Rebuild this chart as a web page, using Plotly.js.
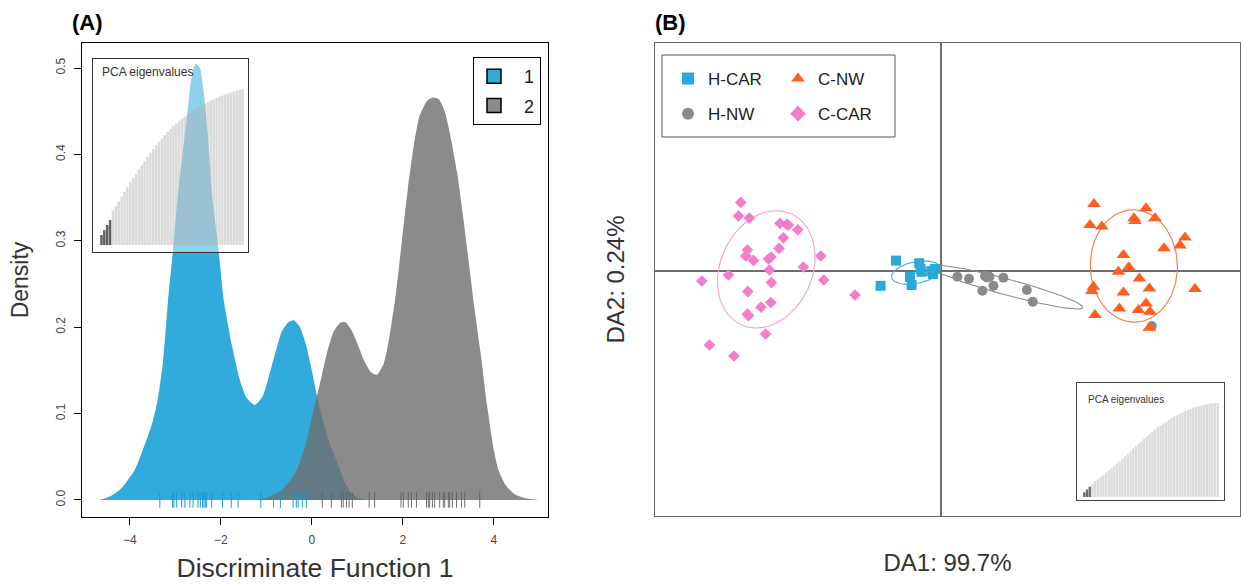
<!DOCTYPE html>
<html>
<head>
<meta charset="utf-8">
<script src="https://cdn.plot.ly/plotly-3.0.1.min.js"></script>
<style>
  html, body { margin: 0; padding: 0; background: #ffffff; }
  #chart { width: 1241px; height: 584px; }
</style>
</head>
<body>
<div id="chart"></div>
<script>
// ---------------- Panel A: density of discriminant function 1 ----------------
const group1DensityX = [-4.66, -4.44, -4.18, -3.89, -3.63, -3.49, -3.38, -3.27, -3.16, -3.05, -2.95, -2.84, -2.73, -2.64, -2.55, -2.46, -2.37, -2.29, -2.18, -2.07, -1.93, -1.76, -1.58, -1.43, -1.25, -1.08, -0.88, -0.66, -0.51, -0.40, -0.26, -0.13, 0.00, 0.18, 0.40, 0.51, 0.62, 0.73, 0.84, 1.00, 1.20];
const group1DensityY = [0.000, 0.004, 0.014, 0.035, 0.070, 0.092, 0.118, 0.160, 0.230, 0.290, 0.350, 0.400, 0.450, 0.490, 0.505, 0.500, 0.470, 0.425, 0.347, 0.300, 0.230, 0.180, 0.139, 0.118, 0.110, 0.120, 0.155, 0.195, 0.206, 0.208, 0.200, 0.180, 0.150, 0.105, 0.064, 0.050, 0.035, 0.020, 0.010, 0.003, 0.000];

const group2DensityX = [-1.25, -0.97, -0.70, -0.48, -0.31, -0.13, 0.02, 0.18, 0.33, 0.48, 0.62, 0.73, 0.86, 1.01, 1.16, 1.30, 1.43, 1.58, 1.71, 1.85, 1.98, 2.11, 2.24, 2.37, 2.53, 2.66, 2.79, 2.92, 3.05, 3.19, 3.32, 3.45, 3.58, 3.71, 3.85, 4.00, 4.10, 4.25, 4.45, 4.70, 5.00];
const group2DensityY = [0.000, 0.003, 0.010, 0.022, 0.037, 0.065, 0.100, 0.135, 0.170, 0.195, 0.205, 0.206, 0.198, 0.180, 0.160, 0.148, 0.145, 0.158, 0.190, 0.240, 0.300, 0.360, 0.410, 0.445, 0.462, 0.466, 0.464, 0.450, 0.420, 0.380, 0.330, 0.275, 0.220, 0.170, 0.110, 0.058, 0.035, 0.018, 0.007, 0.002, 0.000];

const group1Rug = [-3.34, -3.06, -3.03, -2.97, -2.86, -2.79, -2.68, -2.61, -2.50, -2.45, -2.40, -2.37, -2.34, -2.31, -2.20, -1.96, -1.77, -1.62, -1.12, -0.84, -0.69, -0.41, -0.34, -0.30, -0.21, -0.12];
const group2Rug = [0.23, 0.43, 0.65, 0.69, 0.76, 0.82, 0.89, 1.26, 1.38, 1.96, 2.01, 2.12, 2.19, 2.30, 2.52, 2.56, 2.59, 2.65, 2.70, 2.81, 2.89, 2.92, 3.00, 3.03, 3.09, 3.18, 3.29, 3.36, 3.69];

const groupNames = ['1', '2'];
const densityTicks = [0, 0.1, 0.2, 0.3, 0.4, 0.5];
const densityTickText = ['0.0', '0.1', '0.2', '0.3', '0.4', '0.5'];
const dfTicks = [-4, -2, 0, 2, 4];

// PCA eigenvalue insets (cumulative, % of total)
const pcaEigenA = [6.4, 9.5, 12.8, 16.0, 22, 25, 28, 31, 34, 37, 40, 42.8, 45.6, 48.4, 51.1, 53.8, 56.4, 59, 61.5, 63.9, 66.2, 68.4, 70.5, 72.5, 74.4, 76.2, 77.9, 79.5, 81, 82.4, 83.7, 85, 86.2, 87.4, 88.5, 89.6, 90.6, 91.6, 92.5, 93.4, 94.2, 95, 95.8, 96.5, 97.2, 97.8, 98.4, 99, 99.5, 100];
const pcaRetainedA = 4;
const pcaEigenB = [5, 8, 11, 14, 16.4, 18.8, 21.2, 23.6, 26, 28.4, 30.8, 33.2, 35.6, 38, 40.7, 43.4, 46.1, 48.8, 51.5, 54.2, 56.9, 59.5, 62.1, 64.6, 67.1, 69.5, 71.8, 74, 76.1, 78.1, 80, 81.9, 83.7, 85.4, 87, 88.5, 90, 91.3, 92.6, 93.8, 94.9, 95.9, 96.8, 97.6, 98.3, 98.9, 99.4, 99.7, 99.9, 100];
const pcaRetainedB = 3;

// ---------------- Panel B: DAPC scatter ----------------
const hcarDA1 = [-2.25, -1.09, -1.02, -0.97, -1.55, -1.47, -3.02, -0.47, -0.30, -0.40];
const hcarDA2 = [0.52, 0.39, 0.10, -0.04, -0.29, -0.70, -0.74, 0.00, 0.10, -0.15];

const hnwDA1 = [0.82, 1.40, 2.20, 2.42, 2.29, 3.12, 2.07, 2.62, 4.29, 4.59, 10.54];
const hnwDA2 = [-0.29, -0.39, -0.25, -0.29, -0.32, -0.34, -0.99, -0.74, -0.95, -1.54, -2.75];

const cnwDA1 = [7.65, 10.25, 9.65, 9.70, 10.70, 7.45, 8.04, 12.20, 11.95, 11.15, 9.12, 9.39, 8.87, 9.92, 10.42, 12.70, 7.62, 7.54, 9.12, 10.25, 8.92, 9.87, 10.45, 7.70, 10.42];
const cnwDA2 = [3.35, 3.14, 2.64, 2.50, 2.64, 2.30, 2.22, 1.67, 1.27, 1.14, 0.80, 0.19, -0.04, -0.37, -0.87, -0.90, -0.79, -1.00, -1.07, -1.62, -1.87, -1.95, -2.04, -2.20, -2.84];

const ccarDA1 = [-10.01, -10.13, -9.58, -8.05, -7.71, -7.63, -7.16, -7.88, -8.10, -9.68, -9.76, -9.38, -8.63, -8.50, -6.01, -6.88, -8.58, -10.63, -11.96, -5.86, -8.48, -9.66, -9.00, -8.51, -9.68, -9.63, -8.77, -11.58, -10.35, -4.30];
const ccarDA2 = [3.43, 2.75, 2.65, 2.38, 2.33, 2.30, 2.06, 1.66, 1.13, 1.05, 0.75, 0.53, 0.60, 0.70, 0.75, 0.20, 0.05, -0.20, -0.50, -0.45, -0.58, -1.03, -1.81, -1.58, -2.16, -2.23, -3.15, -3.70, -4.25, -1.20];

const popNames = ['H-CAR', 'H-NW', 'C-NW', 'C-CAR'];
const popColors = ['#2ba9dc', '#8a8a8a', '#ff5e1f', '#f47cc8'];
const ellipseColors = ['#3aaedc', '#8c8c8c', '#f47a46', '#f4a0d2'];
const ellipseScale = 1.5;

// ---------------- helpers ----------------
const FONT = 'Liberation Sans, Arial, sans-serif';
const W = 1241, H = 584;
const px = v => v / W;
const py = v => (H - v) / H;

function covEllipse(xs, ys, k) {
  const n = xs.length;
  const mx = xs.reduce((a, b) => a + b, 0) / n;
  const my = ys.reduce((a, b) => a + b, 0) / n;
  let sxx = 0, syy = 0, sxy = 0;
  for (let i = 0; i < n; i++) {
    sxx += (xs[i] - mx) ** 2; syy += (ys[i] - my) ** 2; sxy += (xs[i] - mx) * (ys[i] - my);
  }
  sxx /= n; syy /= n; sxy /= n;
  const tr = sxx + syy, det = sxx * syy - sxy * sxy;
  const disc = Math.sqrt(Math.max(tr * tr / 4 - det, 0));
  const l1 = tr / 2 + disc, l2 = Math.max(tr / 2 - disc, 0);
  const ang = 0.5 * Math.atan2(2 * sxy, sxx - syy);
  const a = k * Math.sqrt(l1), b = k * Math.sqrt(l2);
  const ex = [], ey = [];
  for (let i = 0; i <= 120; i++) {
    const t = 2 * Math.PI * i / 120;
    const u = a * Math.cos(t), v = b * Math.sin(t);
    ex.push(mx + u * Math.cos(ang) - v * Math.sin(ang));
    ey.push(my + u * Math.sin(ang) + v * Math.cos(ang));
  }
  return { x: ex, y: ey };
}

const blueFill = 'rgb(51,170,220)';
const grayFill = 'rgba(110,110,110,0.8)';

// axis ranges
const xA = [-5.05, 5.19];
const yA = [-0.0197, 0.529];
const xB = [-14.3, 14.95];
const yB = [-12.25, 11.4];
const xInA = [-1.93, 51.9];
const yInA = [-4.49, 119.2];
const xInB = [-1.7, 52.3];
const yInB = [-3.2, 121.3];

const traces = [];

// density curves
traces.push({
  type: 'scatter', mode: 'lines', x: group1DensityX, y: group1DensityY,
  fill: 'tozeroy', fillcolor: blueFill, line: { width: 0, color: blueFill, shape: 'spline', smoothing: 0.6 },
  xaxis: 'x', yaxis: 'y', showlegend: false, hoverinfo: 'skip'
});
traces.push({
  type: 'scatter', mode: 'lines', x: group2DensityX, y: group2DensityY,
  fill: 'tozeroy', fillcolor: grayFill, line: { width: 0, color: grayFill, shape: 'spline', smoothing: 0.6 },
  xaxis: 'x', yaxis: 'y', showlegend: false, hoverinfo: 'skip'
});
// rugs
const rug1Color = 'rgba(25,150,210,0.95)';
const rug2Color = 'rgba(95,95,95,0.9)';
traces.push({
  type: 'scatter', mode: 'markers', x: group1Rug, y: group1Rug.map(() => 0),
  marker: { symbol: 'line-ns-open', size: 11, color: rug1Color, line: { width: 1, color: rug1Color } },
  xaxis: 'x', yaxis: 'y', showlegend: false, hoverinfo: 'x'
});
traces.push({
  type: 'scatter', mode: 'markers', x: group2Rug, y: group2Rug.map(() => 0),
  marker: { symbol: 'line-ns-open', size: 11, color: rug2Color, line: { width: 1, color: rug2Color } },
  xaxis: 'x', yaxis: 'y', showlegend: false, hoverinfo: 'x'
});
// legend keys for panel A
[blueFill, 'rgb(139,139,139)'].forEach((c, i) => {
  traces.push({
    type: 'scatter', mode: 'markers', x: [null], y: [null], name: '\u00a0\u00a0' + groupNames[i],
    marker: { symbol: 'square', size: 14, color: c, line: { width: 1.5, color: '#000' } },
    xaxis: 'x', yaxis: 'y', legend: 'legend2', legendgroup: 'g' + i, showlegend: true
  });
});

// inset A bars
traces.push({
  type: 'bar', x: pcaEigenA.map((_, i) => i + 1), y: pcaEigenA, width: 0.88,
  marker: { color: pcaEigenA.map((_, i) => i < pcaRetainedA ? 'rgba(70,70,70,0.85)' : 'rgba(172,172,172,0.45)'), line: { width: 0 } },
  xaxis: 'x3', yaxis: 'y3', showlegend: false, hoverinfo: 'y'
});

// Panel B ellipses
const popX = [hcarDA1, hnwDA1, cnwDA1, ccarDA1];
const popY = [hcarDA2, hnwDA2, cnwDA2, ccarDA2];
for (let g = 0; g < 4; g++) {
  const e = covEllipse(popX[g], popY[g], ellipseScale);
  traces.push({
    type: 'scatter', mode: 'lines', x: e.x, y: e.y, line: { color: ellipseColors[g], width: 1.1 },
    xaxis: 'x2', yaxis: 'y2', showlegend: false, hoverinfo: 'skip'
  });
}
// Panel B points; legend col 1 (H-CAR, H-NW) and col 2 (C-NW, C-CAR)
const popSymbols = ['square', 'circle', 'triangle-up', 'diamond'];
const popSizes = [10, 10, 12, 9];
const popLegends = ['legend', 'legend', 'legend3', 'legend3'];
for (let g = 0; g < 4; g++) {
  traces.push({
    type: 'scatter', mode: 'markers', x: popX[g], y: popY[g], name: popNames[g],
    marker: { symbol: popSymbols[g], size: popSizes[g], color: popColors[g], line: { width: 0 } },
    xaxis: 'x2', yaxis: 'y2', legend: popLegends[g], legendgroup: 'p' + g, showlegend: true
  });
}

// inset B bars
traces.push({
  type: 'bar', x: pcaEigenB.map((_, i) => i + 1), y: pcaEigenB, width: 0.88,
  marker: { color: pcaEigenB.map((_, i) => i < pcaRetainedB ? '#6a6a6a' : '#dcdcdc'), line: { width: 0 } },
  xaxis: 'x4', yaxis: 'y4', showlegend: false, hoverinfo: 'y'
});

const insetAxis = (domain, range, anchor, color) => ({
  domain: domain, range: range, anchor: anchor, showline: true, mirror: true, linecolor: color, linewidth: 1,
  showticklabels: false, ticks: '', showgrid: false, zeroline: false, fixedrange: true
});

const legendCommon = {
  orientation: 'v', xanchor: 'left', yanchor: 'top', bgcolor: 'rgba(0,0,0,0)', borderwidth: 0,
  font: { family: FONT, size: 17, color: '#222' }, tracegroupgap: 10, itemsizing: 'constant',
  itemclick: false, itemdoubleclick: false
};

const layout = {
  width: W, height: H,
  margin: { l: 0, r: 0, t: 0, b: 0 },
  paper_bgcolor: '#ffffff', plot_bgcolor: 'rgba(0,0,0,0)',
  font: { family: FONT, color: '#333' },
  showlegend: true,
  xaxis: {
    domain: [px(82), px(548)], range: xA, anchor: 'y', tickvals: dfTicks, ticks: 'outside', ticklen: 7, tickwidth: 1,
    tickcolor: '#000', showline: true, mirror: true, linecolor: '#000', linewidth: 1,
    showgrid: false, zeroline: false, tickfont: { size: 12, color: '#444' }, ticklabelstandoff: 5,
    title: { text: 'Discriminate Function 1', font: { size: 26.5, color: '#333' }, standoff: 12 }
  },
  yaxis: {
    domain: [py(517), py(43)], range: yA, anchor: 'x', tickvals: densityTicks, ticktext: densityTickText, tickangle: -90,
    ticks: 'outside', ticklen: 7, tickwidth: 1, tickcolor: '#000', showline: true, mirror: true,
    linecolor: '#000', linewidth: 1, showgrid: false, zeroline: false, tickfont: { size: 12, color: '#444' },
    ticklabelstandoff: 4,
    title: { text: 'Density', font: { size: 23, color: '#333' }, standoff: 19 }
  },
  xaxis2: {
    domain: [px(655), px(1240)], range: xB, anchor: 'y2', showticklabels: false, ticks: '', showgrid: false,
    zeroline: true, zerolinecolor: '#6e6e6e', zerolinewidth: 1.5, showline: true, mirror: true,
    linecolor: '#666', linewidth: 1.3,
    title: { text: 'DA1: 99.7%', font: { size: 24, color: '#333' }, standoff: 38 }
  },
  yaxis2: {
    domain: [py(516), py(43)], range: yB, anchor: 'x2', showticklabels: false, ticks: '', showgrid: false,
    zeroline: true, zerolinecolor: '#6e6e6e', zerolinewidth: 1.5, showline: true, mirror: true,
    linecolor: '#666', linewidth: 1.3,
    title: { text: 'DA2: 0.24%', font: { size: 24, color: '#333' }, standoff: 22 }
  },
  xaxis3: insetAxis([px(93), px(248)], xInA, 'y3', '#333'),
  yaxis3: insetAxis([py(252), py(59)], yInA, 'x3', '#333'),
  xaxis4: insetAxis([px(1077), px(1224)], xInB, 'y4', '#444'),
  yaxis4: insetAxis([py(500), py(383)], yInB, 'x4', '#444'),
  legend: Object.assign({}, legendCommon, { x: px(668), y: py(61) }),
  legend3: Object.assign({}, legendCommon, { x: px(778), y: py(61) }),
  legend2: {
    orientation: 'v', xanchor: 'left', yanchor: 'top', x: px(473), y: py(57),
    bgcolor: '#ffffff', bordercolor: '#000', borderwidth: 1,
    font: { family: FONT, size: 18, color: '#222' }, tracegroupgap: 3, itemclick: false, itemdoubleclick: false
  },
  shapes: [
    { type: 'rect', xref: 'x3', yref: 'y3', x0: xInA[0], x1: xInA[1], y0: yInA[0], y1: yInA[1],
      fillcolor: 'rgba(255,255,255,0.45)', line: { width: 0 }, layer: 'below' },
    { type: 'rect', xref: 'x4', yref: 'y4', x0: xInB[0], x1: xInB[1], y0: yInB[0], y1: yInB[1],
      fillcolor: '#ffffff', line: { width: 0 }, layer: 'below' },
    { type: 'rect', xref: 'paper', yref: 'paper', x0: px(662), x1: px(895), y0: py(137), y1: py(55),
      fillcolor: 'rgba(255,255,255,0)', line: { width: 1, color: '#555' }, layer: 'above' }
  ],
  annotations: [
    { text: '<b>(A)</b>', xref: 'paper', yref: 'paper', x: px(70), y: py(22), xanchor: 'left', yanchor: 'middle',
      showarrow: false, font: { family: FONT, size: 22, color: '#000' } },
    { text: '<b>(B)</b>', xref: 'paper', yref: 'paper', x: px(653), y: py(22), xanchor: 'left', yanchor: 'middle',
      showarrow: false, font: { family: FONT, size: 22, color: '#000' } },
    { text: 'PCA eigenvalues', xref: 'x3 domain', yref: 'y3 domain', x: 0.045, y: 0.935, xanchor: 'left', yanchor: 'middle',
      showarrow: false, font: { family: FONT, size: 12, color: '#333' } },
    { text: 'PCA eigenvalues', xref: 'x4 domain', yref: 'y4 domain', x: 0.06, y: 0.855, xanchor: 'left', yanchor: 'middle',
      showarrow: false, font: { family: FONT, size: 10, color: '#333' } }
  ]
};

Plotly.newPlot('chart', traces, layout, { displayModeBar: false, responsive: false });
</script>
</body>
</html>
